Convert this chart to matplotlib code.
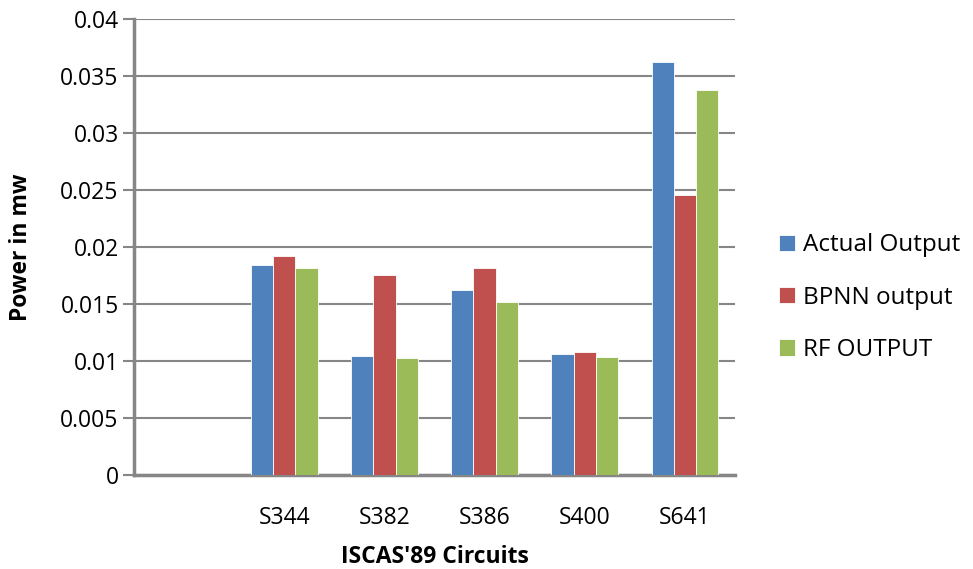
import matplotlib.pyplot as plt
import numpy as np

# data
categories = ["", "S344", "S382", "S386", "S400", "S641"]
actual_output = [0.01839, 0.01041, 0.01623, 0.01058, 0.03623]
bpnn_output = [0.01924, 0.01754, 0.01813, 0.01082, 0.02456]
rf_output = [0.01813, 0.01026, 0.01520, 0.01032, 0.03374]
series_names = ["Actual Output", "BPNN output", "RF OUTPUT"]
colors = ["#4F81BD", "#C0504D", "#9BBB59"]

plt.rcParams['font.family'] = ['Open Sans', 'DejaVu Sans']

fig = plt.figure(figsize=(9.73, 5.69), dpi=100)
ax = fig.add_axes([134 / 973, 94 / 569, 601 / 973, 456 / 569])

w = 1 / 4.5
x = np.arange(1, len(categories))
for i, vals in enumerate([actual_output, bpnn_output, rf_output]):
    ax.bar(x + (i - 1) * w, vals, w, color=colors[i], edgecolor='white',
           linewidth=0.6, label=series_names[i], zorder=3)

ax.set_xlim(-0.5, len(categories) - 0.5)
ax.set_ylim(0, 0.04)
ax.set_yticks(np.arange(0, 0.0401, 0.005))
ax.set_yticklabels(["0", "0.005", "0.01", "0.015", "0.02", "0.025", "0.03", "0.035", "0.04"])
ax.set_xticks(np.arange(len(categories)))
ax.set_xticklabels(categories)

ax.grid(axis='y', color='#868686', linewidth=1.5, zorder=0)
for s in ['top', 'right']:
    ax.spines[s].set_visible(False)
for s in ['left', 'bottom']:
    ax.spines[s].set_color('#868686')
    ax.spines[s].set_linewidth(2.5)
ax.tick_params(axis='y', length=8, width=1.5, color='#868686', labelsize=16.5, pad=3)
ax.tick_params(axis='x', length=0, labelsize=16.5, pad=22)

ax.set_ylabel("Power in mw", fontsize=16.5, fontweight='bold', labelpad=20)
ax.set_xlabel("ISCAS'89 Circuits", fontsize=16.5, fontweight='bold', labelpad=11)

fig.legend(loc='center left', bbox_to_anchor=(757 / 973, 0.4768), frameon=False,
           fontsize=17.5, handlelength=0.65, handleheight=0.65, handletextpad=0.35,
           labelspacing=1.17)

fig.savefig("out.png", dpi=100)
